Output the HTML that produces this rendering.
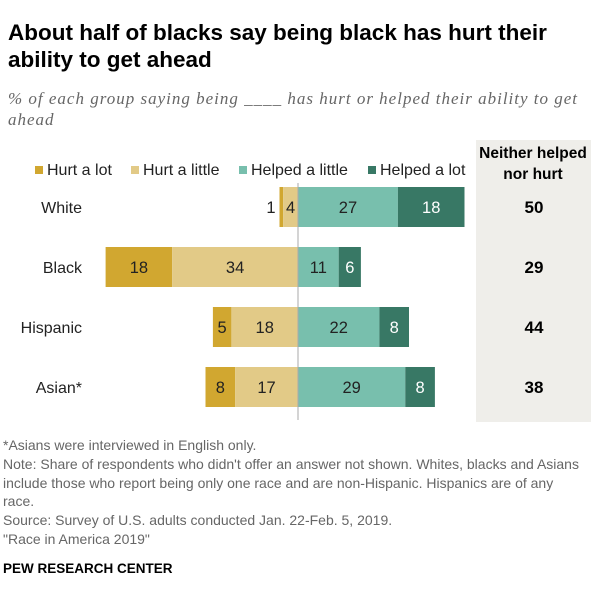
<!DOCTYPE html>
<html><head><meta charset="utf-8"><style>
body{margin:0;width:600px;height:601px;background:#fff;font-family:"Liberation Sans",sans-serif;overflow:hidden;position:relative}
.t{position:absolute;white-space:nowrap}
</style></head><body>
<div class="t" style="left:8px;top:19px;font-size:22.5px;font-weight:bold;line-height:27px;color:#000">About half of blacks say being black has hurt their<br>ability to get ahead</div>
<div class="t" style="left:8px;top:88px;font-size:17px;letter-spacing:1px;font-style:italic;font-family:'Liberation Serif',serif;line-height:21px;color:#666">% of each group saying being ____ has hurt or helped their ability to get<br>ahead</div>
<svg id="c" width="600" height="601" style="position:absolute;left:0;top:0"></svg>
<div class="t" style="left:3px;top:436px;font-size:14px;line-height:18.8px;color:#666">*Asians were interviewed in English only.<br>Note: Share of respondents who didn't offer an answer not shown. Whites, blacks and Asians<br>include those who report being only one race and are non-Hispanic. Hispanics are of any<br>race.<br>Source: Survey of U.S. adults conducted Jan. 22-Feb. 5, 2019.<br>"Race in America 2019"</div>
<div class="t" style="left:3px;top:561px;font-size:13.5px;font-weight:bold;color:#000">PEW RESEARCH CENTER</div>
<script>
const groups=["White","Black","Hispanic","Asian*"];
const hurtLot=[1,18,5,8];
const hurtLittle=[4,34,18,17];
const helpedLittle=[27,11,22,29];
const helpedLot=[18,6,8,8];
const neither=[50,29,44,38];
const seriesNames=["Hurt a lot","Hurt a little","Helped a little","Helped a lot"];
const colors=["#d1a730","#e2ca87","#78bfad","#387865"];
const NS="http://www.w3.org/2000/svg";
const svg=document.getElementById("c");
const cx=298,k=3.7;
const x=v=>cx+v*k;
const rowY=i=>187+i*60;
function el(tag,a,txt){const e=document.createElementNS(NS,tag);for(const n in a)e.setAttribute(n,a[n]);if(txt!==undefined)e.textContent=txt;svg.appendChild(e);return e;}
const p=el("rect",{x:476,y:140,width:115,height:282,fill:"#efeeea"});


const h=el("text",{x:533,y:158,"text-anchor":"middle","font-size":"15.5","font-weight":"bold"},"Neither helped");


el("text",{x:533,y:179,"text-anchor":"middle","font-size":"15.5","font-weight":"bold"},"nor hurt");
const legX=[35,131,239,368];
seriesNames.forEach((n,j)=>{
 const r=el("rect",{x:legX[j],y:166,width:8,height:8,fill:colors[j]});
 
 
 const t=el("text",{x:legX[j]+12,y:175,"font-size":"16",fill:"#222"},n);
 
 
});
groups.forEach((g,i)=>{
 const y=rowY(i),hh=40;
 const lab=el("text",{x:82,y:y+26,"text-anchor":"end","font-size":"16",fill:"#222"},g);
 
 
 const segs=[[-hurtLittle[i]-hurtLot[i],hurtLot[i],0],[-hurtLittle[i],hurtLittle[i],1],[0,helpedLittle[i],2],[helpedLittle[i],helpedLot[i],3]];
 segs.forEach(([s,v,j])=>{
  const r=el("rect",{x:x(s),y:y,width:v*k,height:hh,fill:colors[j]});
  
  
  let tx=x(s)+v*k/2,anchor="middle";
  if(v*k<10){tx=x(s)-4;anchor="end";}
  const t=el("text",{x:tx,y:y+26,"text-anchor":anchor,"font-size":"16.5",fill:j==3?"#fff":"#222"},v);
  
  
 });
 const n=el("text",{x:534,y:y+26,"text-anchor":"middle","font-size":"17","font-weight":"bold"},neither[i]);
 
 
});
const ax=el("line",{x1:cx,x2:cx,y1:183,y2:420,stroke:"#aaa","stroke-width":1});


</script>
</body></html>
